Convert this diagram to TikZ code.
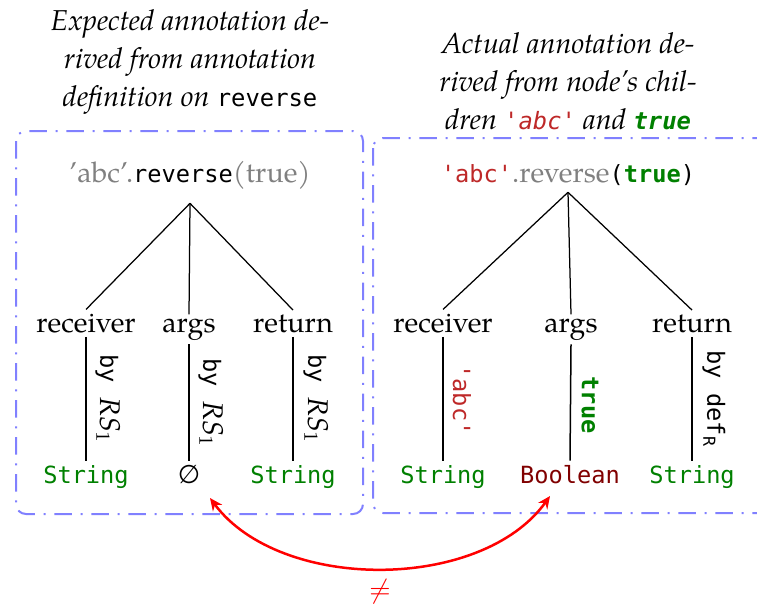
\documentclass[tikz,border=0pt]{standalone}
\usepackage{fontspec}
\setmainfont{TeX Gyre Pagella}
\setmonofont{DejaVu Sans Mono}[Scale=0.83]
\newfontfamily\dvsansfam{DejaVu Sans}[Scale=0.9]
\usetikzlibrary{arrows.meta}
\definecolor{boxblue}{RGB}{128,128,255}
\definecolor{codegreen}{RGB}{0,128,0}
\definecolor{abcred}{RGB}{190,40,40}
\definecolor{boolred}{RGB}{128,0,0}
\definecolor{codegray}{RGB}{128,128,128}
\tikzset{
  basefont/.style={font=\fontsize{11.4}{14}\selectfont},
  title/.style={align=center, font=\fontsize{11.5}{15.2}\selectfont\itshape},
  rootnode/.style={inner sep=1pt},
  childnode/.style={inner sep=1.5pt, anchor=base},
  leafnode/.style={inner sep=1.5pt, anchor=base},
  vlabel/.style={rotate=-90, inner sep=0pt},
  treeedge/.style={draw=black, line width=0.5pt},
  vline/.style={draw=black, line width=0.6pt},
  annbox/.style={draw=boxblue, line width=0.8pt, rounded corners=4pt,
    dash pattern=on 7pt off 3.5pt on 0.8pt off 3.5pt},
  neqarrow/.style={draw=red, line width=1pt, {Stealth[length=5pt,width=4.5pt]}-{Stealth[length=5pt,width=4.5pt]}}
}
\begin{document}
\begin{tikzpicture}[x=0.4pt,y=-0.4pt,basefont]
\clip (0,0) rectangle (757,608);
% boxes
\draw[annbox] (16,131) rectangle (363,514);
\draw[annbox] (373,138) rectangle (800,513);
% titles
\node[title] (ltitle) at (190,62) {Expected annotation de-\\rived from annotation\\definition on {\upshape\ttfamily reverse}};
\node[title] (rtitle) at (568,81) {Actual annotation de-\\rived from node’s chil-\\dren \textcolor{abcred}{\ttfamily 'abc'} and \textcolor{codegreen}{\ttfamily\bfseries true}};
% left tree
\node[rootnode] (lroot) at (190,175) {\textcolor{codegray}{’abc’.}\texttt{reverse}\textcolor{codegray}{(true)}};
\node[childnode] (lrec) at (86,332) {receiver};
\node[childnode] (largs) at (189,332) {args};
\node[childnode] (lret) at (293,332) {return};
\draw[treeedge] ([yshift=-4.5pt]lroot.south) -- (lrec.north);
\draw[treeedge] ([yshift=-4.5pt]lroot.south) -- (largs.north);
\draw[treeedge] ([yshift=-4.5pt]lroot.south) -- (lret.north);
\node[leafnode] (lstr1) at (86,483) {\textcolor{codegreen}{\texttt{String}}};
\node[leafnode] (lempty) at (189,483) {{\dvsansfam ∅}};
\node[leafnode] (lstr2) at (293,483) {\textcolor{codegreen}{\texttt{String}}};
\draw[vline] (lrec.south) -- (lstr1.north);
\draw[vline] (largs.south) -- (lempty.north);
\draw[vline] (lret.south) -- (lstr2.north);
\node[vlabel] (llab1) at (108,399) {\texttt{by }$\textit{RS}_1$};
\node[vlabel] (llab2) at (211,403) {\texttt{by }$\textit{RS}_1$};
\node[vlabel] (llab3) at (316,399) {\texttt{by }$\textit{RS}_1$};
% right tree
\node[rootnode] (rroot) at (568,175) {\textcolor{abcred}{\texttt{'abc'}}\textcolor{codegray}{.reverse}\texttt{(\textcolor{codegreen}{\bfseries true})}};
\node[childnode] (rrec) at (443,332) {receiver};
\node[childnode] (rargs) at (571,332) {args};
\node[childnode] (rret) at (692,332) {return};
\draw[treeedge] ([yshift=-1.5pt]rroot.south) -- (rrec.north);
\draw[treeedge] ([yshift=-1.5pt]rroot.south) -- (rargs.north);
\draw[treeedge] ([yshift=-1.5pt]rroot.south) -- (rret.north);
\node[leafnode] (rstr1) at (443,483) {\textcolor{codegreen}{\texttt{String}}};
\node[leafnode] (rbool) at (570,483) {\textcolor{boolred}{\texttt{Boolean}}};
\node[leafnode] (rstr2) at (692,483) {\textcolor{codegreen}{\texttt{String}}};
\draw[vline] (rrec.south) -- (rstr1.north);
\draw[vline] (rargs.south) -- (rbool.north);
\draw[vline] (rret.south) -- (rstr2.north);
\node[vlabel] (rlab1) at (462,400) {\textcolor{abcred}{\texttt{'abc'}}};
\node[vlabel] (rlab2) at (590,405) {\textcolor{codegreen}{\texttt{\bfseries true}}};
\node[vlabel] (rlab3) at (714,399) {\texttt{by def}\textsubscript{\texttt{R}}};
% inequality arrow
\coordinate (aL) at (210,498);
\coordinate (aR) at (550,496);
\draw[neqarrow] (aL) .. controls (280,592) and (481,592) .. (aR);
\node[text=red] (neq) at (380,592) {$\neq$};
\end{tikzpicture}
\end{document}
